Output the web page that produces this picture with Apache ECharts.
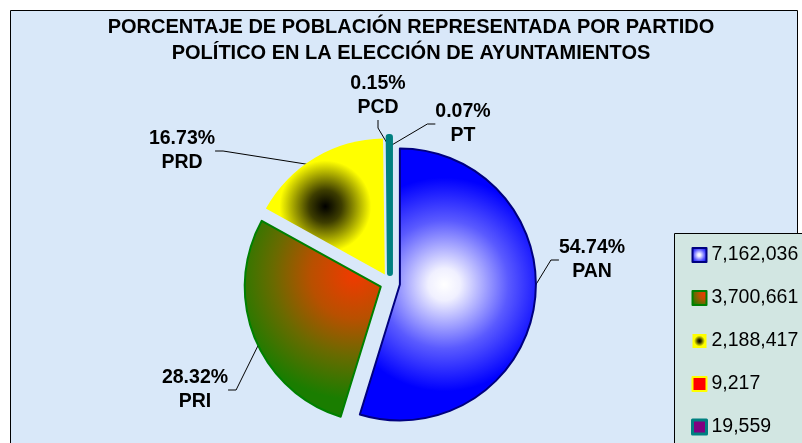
<!DOCTYPE html>
<html>
<head>
<meta charset="utf-8">
<script src="https://cdn.jsdelivr.net/npm/echarts@6/dist/echarts.min.js"></script>
<style>
  html, body { margin: 0; padding: 0; background: #fff; }
  #chart { width: 802px; height: 443px; }
</style>
</head>
<body>
<div id="chart"></div>
<script>
// data
const parties = ["PAN", "PRI", "PRD", "PT", "PCD"];
const votes = [7162036, 3700661, 2188417, 9217, 19559];
const pctLabels = ["54.74%", "28.32%", "16.73%", "0.07%", "0.15%"];
const titleLines = [
  "PORCENTAJE DE POBLACIÓN REPRESENTADA POR PARTIDO",
  "POLÍTICO EN LA ELECCIÓN DE AYUNTAMIENTOS",
];

const FONT = '"Liberation Sans", Arial, sans-serif';

const radial = (x, y, r, stops) => ({
  type: "radial",
  x,
  y,
  r,
  colorStops: stops.map(([offset, color]) => ({ offset, color })),
});

// fill and border of each slice, same order as parties
const sliceStyles = [
  {
    color: radial(0.48, 0.5, 0.6, [
      [0, "#ffffff"],
      [0.15, "#f0f0ff"],
      [0.6, "#5a5aff"],
      [1, "#0000ff"],
    ]),
    borderColor: "#000080",
    borderWidth: 2,
  },
  {
    color: radial(0.8, 0.28, 0.9, [
      [0, "#f03a00"],
      [0.35, "#b85000"],
      [0.65, "#6a6a00"],
      [1, "#1a7d00"],
    ]),
    borderColor: "#008000",
    borderWidth: 2,
  },
  {
    color: radial(0.5, 0.5, 0.55, [
      [0, "#000000"],
      [0.25, "#3d3d00"],
      [0.7, "#ffff00"],
      [1, "#ffff00"],
    ]),
    borderWidth: 0,
  },
  { color: "#ff0000", borderColor: "#ffff00", borderWidth: 3 },
  { color: "#800080", borderColor: "#008080", borderWidth: 6 },
];

// where the labels sit (text block centres)
const labelPos = [
  [592, 260],
  [195, 390],
  [182, 151],
  [463, 124],
  [378, 96],
];

const pieCenter = [390, 283];
const pieRadius = 136;

const chart = echarts.init(document.getElementById("chart"), null, {
  renderer: "canvas",
});

chart.setOption({
  animation: false,
  graphic: [
    {
      type: "rect",
      z: -10,
      shape: { x: 10.5, y: 10.5, width: 787, height: 445 },
      style: { fill: "#d9e8f9", stroke: "#000", lineWidth: 1 },
    },
    // legend box, runs off the bottom of the picture
    {
      type: "rect",
      z: -5,
      shape: { x: 674.5, y: 233.5, width: 140, height: 230 },
      style: { fill: "#d2e6e2", stroke: "#000", lineWidth: 1 },
    },
  ],
  title: {
    text: titleLines.join("\n"),
    left: 411,
    top: 14,
    padding: 0,
    textAlign: "center",
    textStyle: {
      fontFamily: FONT,
      fontSize: 20,
      fontWeight: "bold",
      lineHeight: 26,
      color: "#000",
    },
  },
  legend: {
    orient: "vertical",
    left: 691,
    top: 245,
    padding: 0,
    icon: "rect",
    itemWidth: 14,
    itemHeight: 14,
    itemGap: 23,
    selectedMode: false,
    data: parties.map((name, i) =>
      i === 4 ? { name, itemStyle: { borderWidth: 3 } } : { name },
    ),
    formatter: (name) => votes[parties.indexOf(name)].toLocaleString("en-US"),
    textStyle: {
      fontFamily: FONT,
      fontSize: 19.5,
      lineHeight: 20,
      color: "#000",
    },
  },
  series: [
    // the exploded slices
    {
      type: "pie",
      z: 2,
      center: pieCenter,
      radius: pieRadius,
      startAngle: 90,
      clockwise: true,
      selectedMode: "multiple",
      selectedOffset: 10,
      emphasis: { disabled: true },
      label: { show: false },
      labelLine: { show: false },
      data: parties.map((name, i) => ({
        name,
        value: votes[i],
        selected: true,
        itemStyle: sliceStyles[i],
      })),
    },
    // same pie, unfilled, carrying the labels and leader lines
    {
      type: "pie",
      z: 1,
      silent: true,
      center: pieCenter,
      radius: pieRadius,
      startAngle: 90,
      clockwise: true,
      emphasis: { disabled: true },
      itemStyle: { color: "rgba(0,0,0,0)", borderWidth: 0 },
      data: parties.map((name, i) => ({ name, value: votes[i] })),
      label: {
        show: true,
        position: "outside",
        formatter: (p) => pctLabels[p.dataIndex] + "\n" + p.name,
        fontFamily: FONT,
        fontSize: 19.5,
        fontWeight: "bold",
        lineHeight: 24,
        color: "#000",
        align: "center",
      },
      labelLine: {
        show: true,
        length: 15,
        length2: 8,
        lineStyle: { color: "#000", width: 1 },
      },
      labelLayout: (params) => {
        const p = labelPos[params.dataIndex];
        return { x: p[0], y: p[1], align: "center", verticalAlign: "middle" };
      },
    },
  ],
});
</script>
</body>
</html>
